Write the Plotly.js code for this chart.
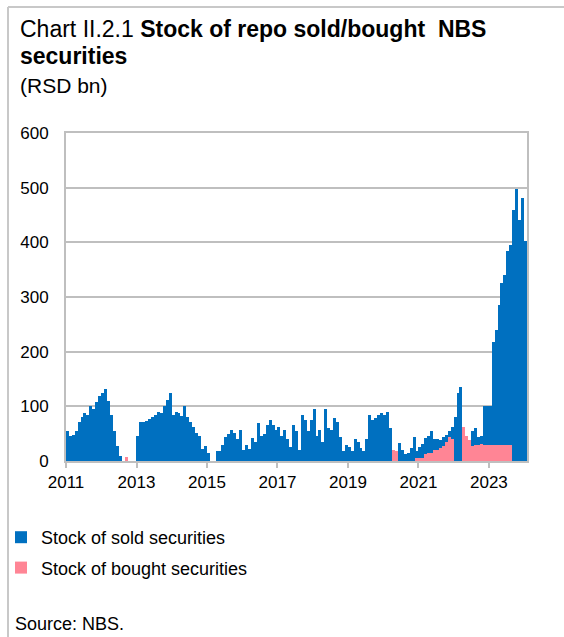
<!DOCTYPE html>
<html>
<head>
<meta charset="utf-8">
<script src="https://cdn.plot.ly/plotly-3.0.1.min.js"></script>
<style>html,body{margin:0;padding:0;background:#fff;}#chart{width:564px;height:637px;}</style>
</head>
<body>
<div id="chart"></div>
<script>
// Months from Jan 2011 to Jan 2024
const years = [2011,2012,2013,2014,2015,2016,2017,2018,2019,2020,2021,2022,2023,2024];

// Stock of sold securities (RSD bn), monthly
const sold2011 = [55,45,48,55,72,80,88,85,100,95,108,118];
const sold2012 = [125,132,110,85,55,28,10,0,0,0,0,0];
const sold2013 = [45,72,72,74,76,80,85,90,88,100,112,125];
const sold2014 = [85,90,88,82,100,80,72,62,52,45,22,28];
const sold2015 = [15,0,0,19,19,30,44,50,57,52,40,57];
const sold2016 = [20,30,22,42,35,70,45,50,65,75,65,57];
const sold2017 = [62,45,57,40,25,65,55,20,85,75,55,75];
const sold2018 = [95,45,57,35,95,61,57,78,72,44,18,30];
const sold2019 = [25,18,40,35,24,18,40,85,75,78,85,88];
const sold2020 = [85,90,60,10,10,33,20,12,15,24,44,18];
const sold2021 = [25,32,42,45,55,40,40,38,43,48,55,62];
const sold2022 = [80,125,135,0,0,0,55,60,43,45,100,100];
const sold2023 = [100,218,240,285,325,340,385,395,460,497,440,481];
const sold2024 = [403];

// Stock of bought securities (RSD bn), monthly
const bought2011 = [0,0,0,0,0,0,0,0,0,0,0,0];
const bought2012 = [0,0,0,0,0,0,0,0,8,0,0,0];
const bought2013 = [0,0,0,0,0,0,0,0,0,0,0,0];
const bought2014 = [0,0,0,0,0,0,0,0,0,0,0,0];
const bought2015 = [0,0,0,0,0,0,0,0,0,0,0,0];
const bought2016 = [0,0,0,0,0,0,0,0,0,0,0,0];
const bought2017 = [0,0,0,0,0,0,0,0,0,0,0,0];
const bought2018 = [0,0,0,0,0,0,0,0,0,0,0,0];
const bought2019 = [0,0,0,0,0,0,0,0,0,0,0,0];
const bought2020 = [0,0,0,20,18,0,0,0,0,0,0,5];
const bought2021 = [5,6,13,14,15,20,20,24,28,35,44,40];
const bought2022 = [0,0,0,62,45,38,28,30,30,32,30,30];
const bought2023 = [30,30,30,30,30,30,30,30,0,0,0,0];
const bought2024 = [0];

const tickYears = ['2011','2013','2015','2017','2019','2021','2023'];
const seriesNames = ['Stock of sold securities','Stock of bought securities'];

const soldAll = [].concat(sold2011,sold2012,sold2013,sold2014,sold2015,sold2016,sold2017,sold2018,sold2019,sold2020,sold2021,sold2022,sold2023,sold2024);
const boughtAll = [].concat(bought2011,bought2012,bought2013,bought2014,bought2015,bought2016,bought2017,bought2018,bought2019,bought2020,bought2021,bought2022,bought2023,bought2024);

const dates = [];
for (let i = 0; i < soldAll.length; i++) {
  const y = 2011 + Math.floor(i/12), m = (i%12)+1;
  dates.push(y + '-' + String(m).padStart(2,'0') + '-16');
}

// layout geometry (pixels)
const W = 564, H = 637, L = 66, R = 527, T = 133, B = 461;
const px = x => (x - L)/(R - L);
const py = y => (B - y)/(B - T);
const FONT = '"Liberation Sans", Arial, sans-serif';
const monthMs = 31*864e5;

const traces = [
  {type:'bar', x:dates, y:soldAll, name:seriesNames[0], width:monthMs,
   marker:{color:'#0070c0', line:{width:0}}, legendgroup:'a', hoverinfo:'x+y'},
  {type:'bar', x:dates, y:boughtAll, name:seriesNames[1], width:monthMs,
   marker:{color:'#ff8595', line:{width:0}}, legendgroup:'b', hoverinfo:'x+y'}
];

const grey = '#bfbfbf';
const layout = {
  width:W, height:H,
  margin:{l:L, r:W-R, t:T, b:H-B, pad:0, autoexpand:false},
  paper_bgcolor:'#fff', plot_bgcolor:'#fff',
  font:{family:FONT, size:17, color:'#000'},
  barmode:'overlay', bargap:0,
  showlegend:true,
  legend:{x:px(1), xanchor:'left', y:py(519), yanchor:'top', traceorder:'grouped',
          tracegroupgap:4, font:{family:FONT, size:18, color:'#000'}, bgcolor:'rgba(0,0,0,0)', itemwidth:30},
  xaxis:{type:'date', range:['2011-01-01','2024-01-31'], tickvals:tickYears.map(y=>y+'-01-01'), ticktext:tickYears,
         ticks:'outside', ticklen:5, tickwidth:2, tickcolor:grey, showgrid:false, automargin:false,
         showline:true, linecolor:grey, linewidth:2, mirror:true, zeroline:false,
         tickfont:{family:FONT, size:17, color:'#000'}},
  yaxis:{range:[0,600], dtick:100, tick0:0, showgrid:true, gridcolor:grey, gridwidth:2, automargin:false,
         showline:true, linecolor:grey, linewidth:2, mirror:true, zeroline:false, ticks:'',
         ticklabelstandoff:12, tickfont:{family:FONT, size:17, color:'#000'}},
  annotations:[
    {xref:'paper', yref:'paper', x:px(18), y:py(29), xanchor:'left', yanchor:'middle', showarrow:false,
     text:'Chart II.2.1 <b>Stock of repo sold/bought  NBS</b>', font:{family:FONT, size:23, color:'#000'}},
    {xref:'paper', yref:'paper', x:px(18), y:py(56), xanchor:'left', yanchor:'middle', showarrow:false,
     text:'<b>securities</b>', font:{family:FONT, size:23, color:'#000'}},
    {xref:'paper', yref:'paper', x:px(18), y:py(85), xanchor:'left', yanchor:'middle', showarrow:false,
     text:'(RSD bn)', font:{family:FONT, size:21, color:'#000'}},
    {xref:'paper', yref:'paper', x:px(13), y:py(624), xanchor:'left', yanchor:'middle', showarrow:false,
     text:'Source: NBS.', font:{family:FONT, size:18, color:'#000'}}
  ],
  shapes:[
    {type:'line', xref:'paper', yref:'paper', x0:px(8), x1:px(8), y0:py(7), y1:py(H), line:{color:'#c8c8c8', width:2}},
    {type:'line', xref:'paper', yref:'paper', x0:px(8), x1:px(W), y0:py(7), y1:py(7), line:{color:'#c8c8c8', width:2}}
  ]
};

Plotly.newPlot('chart', traces, layout, {displayModeBar:false, staticPlot:true});
</script>
</body>
</html>
